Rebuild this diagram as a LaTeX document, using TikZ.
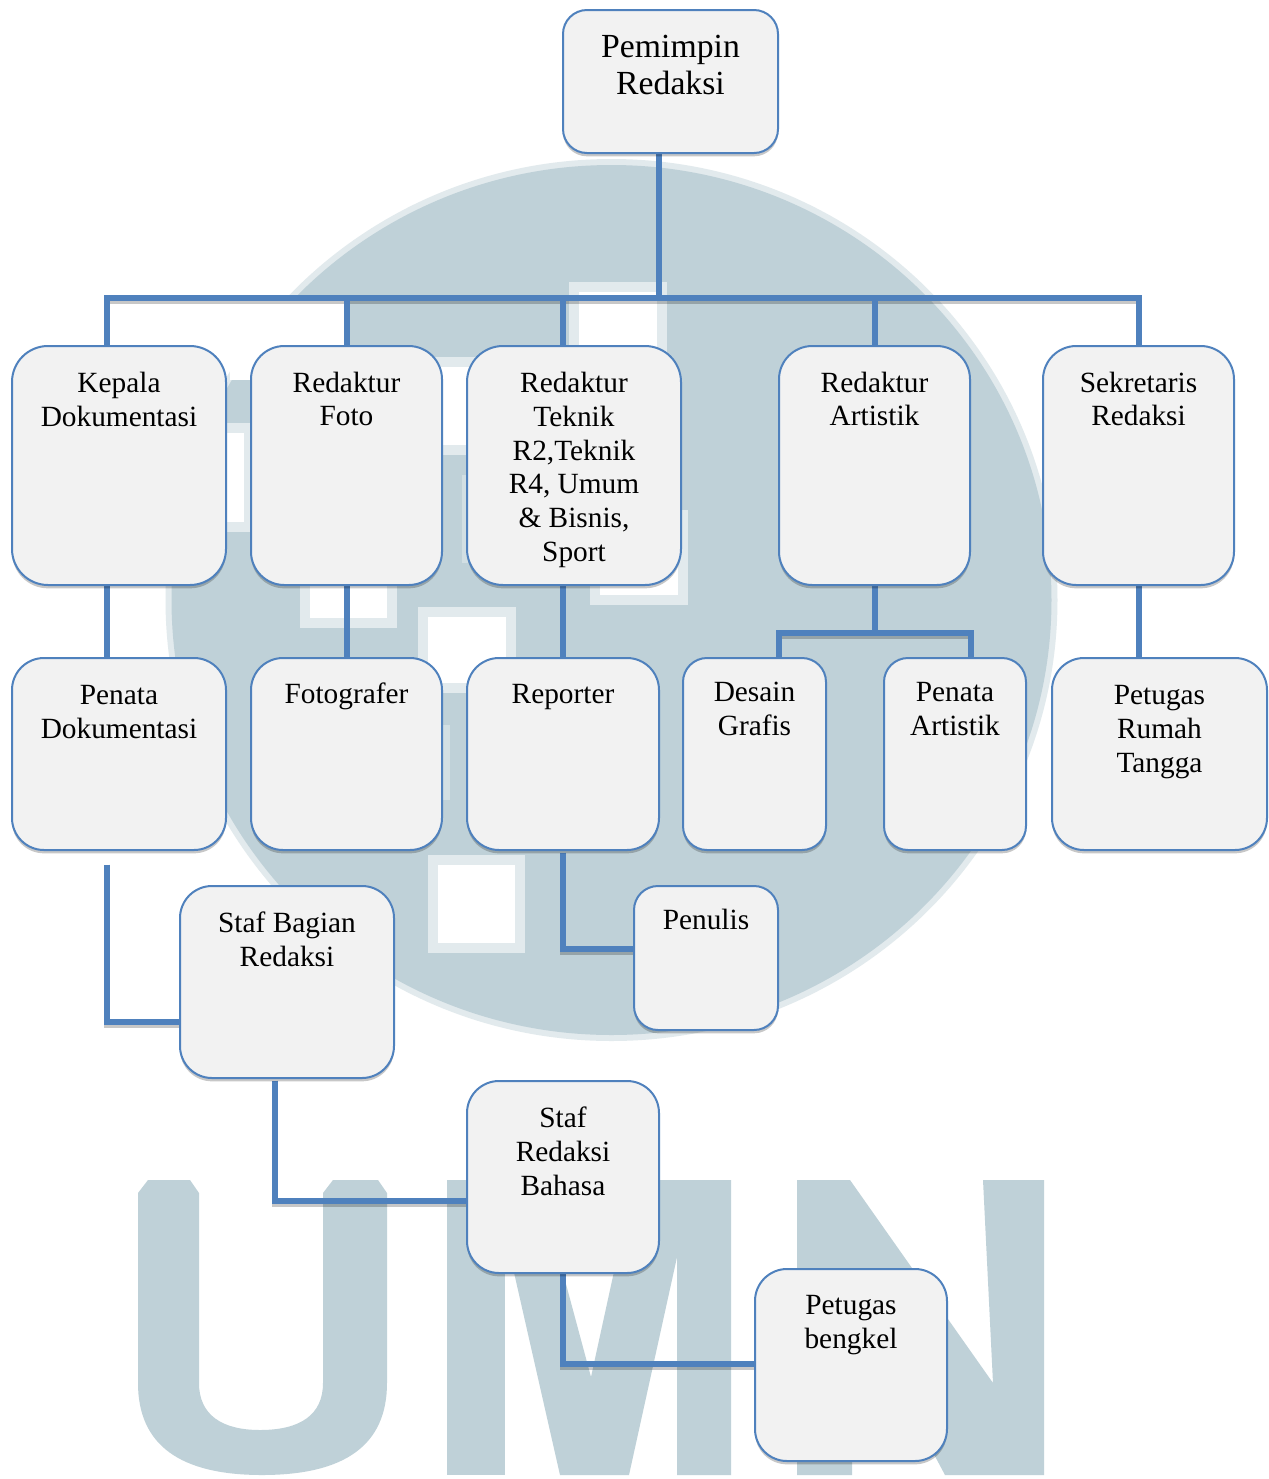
\documentclass[tikz,border=0pt]{standalone}
\usepackage{fontspec}
\setmainfont{Liberation Serif}
\usetikzlibrary{positioning,shadows}
\usepackage{xcolor}

\definecolor{boxblue}{HTML}{4F81BD}
\definecolor{boxfill}{HTML}{F2F2F2}
\definecolor{markblue}{HTML}{BFD1D8}
\definecolor{markfade}{HTML}{E2EAED}
\definecolor{markstrip}{HTML}{D2DFE3}

\pgfdeclarelayer{markLayer}
\pgfdeclarelayer{linkLayer}
\pgfsetlayers{markLayer,linkLayer,main}

\newcommand{\boxtext}[4]{\parbox[c][\dimexpr#2pt*3/4\relax][t]{\dimexpr#1pt*3/4\relax}{\centering\rule{0pt}{\dimexpr#3pt*3/4\relax}#4}}

\tikzset{
    orgbox/.style={
        rectangle,
        draw=boxblue,
        fill=boxfill,
        line width=1.5pt,
        inner sep=0pt,
        outer sep=0pt,
        font=\fontsize{22}{25.35}\selectfont,
        drop shadow={shadow xshift=0pt, shadow yshift=-2.5pt, fill=black, opacity=.22}
    },
    connector/.style={
        line width=4pt,
        draw=boxblue,
        preaction={draw=black, line width=4pt, draw opacity=.22, transform canvas={yshift=-2.5pt}}
    }
}

\begin{document}
\begin{tikzpicture}[x=0.75pt, y=-0.75pt]
    \begin{pgfonlayer}{markLayer}
    \useasboundingbox [fill=white] (0, 0) rectangle (1269, 1479);

    \fill[markfade] (611.5, 600) ellipse [x radius=446, y radius=441];
    \fill[markblue] (611.5, 600) ellipse [x radius=440, y radius=435];
    \fill[white] (230, 301) rectangle (347, 380);

    \foreach \xa/\ya/\xb/\yb in {569/282/667/380, 590/510/688/605, 418/607/516/693,
        428/855/525/953, 300/560/397/628, 400/357/500/455, 190/423/254/532}
    {
        \fill[markfade] (\xa, \ya) rectangle (\xb, \yb);
        \fill[white] (\xa + 10, \ya + 10) rectangle (\xb - 10, \yb - 10);
    }
    \fill[markstrip] (442, 725) rectangle (450, 800);
    \fill[markstrip] (462, 475) rectangle (468, 563);

    \fill[markblue] (138, 1193) -- (148, 1180) -- (190, 1180) -- (199, 1193) -- (199, 1383)
        .. controls (199, 1415) and (222, 1430) .. (260, 1430)
        .. controls (300, 1430) and (323, 1415) .. (323, 1383)
        -- (323, 1193) -- (333, 1180) -- (378, 1180) -- (387, 1193) -- (387, 1383)
        .. controls (387, 1445) and (345, 1475) .. (262, 1475)
        .. controls (180, 1475) and (138, 1445) .. (138, 1383) -- cycle;
    \fill[markblue] (447, 1180) rectangle (505, 1475);
    \fill[markblue] (493, 1180) -- (538, 1180) -- (591, 1377) -- (634, 1180) -- (694, 1180)
        -- (629, 1475) -- (560, 1475) -- cycle;
    \fill[markblue] (672, 1180) -- (731, 1180) -- (731, 1475) -- (677, 1475) -- (677, 1257) -- cycle;
    \fill[markblue] (797, 1180) -- (850, 1180) -- (993, 1383) -- (983, 1180) -- (1044, 1180)
        -- (1044, 1475) -- (945, 1475) -- (852, 1300) -- (852, 1475) -- (797, 1475) -- cycle;
    \end{pgfonlayer}

    \node (pemimpin_redaksi) [orgbox, rounded corners=18pt, shift={(670.5, 81.5)},
        font=\fontsize{25.3}{27.75}\selectfont]
    {
        \boxtext{215}{143}{47}{Pemimpin\\Redaksi}
    };

    \node (kepala_dokumentasi) [orgbox, rounded corners=27pt, shift={(119, 465.5)}]
    {
        \boxtext{214}{239}{46.5}{Kepala\\Dokumentasi}
    };
    \node (redaktur_foto) [orgbox, rounded corners=25pt, shift={(346.5, 465.5)}]
    {
        \boxtext{191}{239}{46}{Redaktur\\Foto}
    };
    \node (redaktur_teknik) [orgbox, rounded corners=27pt, shift={(574, 465.5)}]
    {
        \boxtext{214}{239}{46.5}{Redaktur\\Teknik\\R2,Teknik\\R4, Umum\\\& Bisnis,\\Sport}
    };
    \node (redaktur_artistik) [orgbox, rounded corners=25pt, shift={(874.5, 465.5)}]
    {
        \boxtext{191}{239}{46}{Redaktur\\Artistik}
    };
    \node (sekretaris_redaksi) [orgbox, rounded corners=25pt, shift={(1138.5, 465.5)}]
    {
        \boxtext{191}{239}{46}{Sekretaris\\Redaksi}
    };

    \node (penata_dokumentasi) [orgbox, rounded corners=24pt, shift={(119, 754)}]
    {
        \boxtext{214}{192}{46.5}{Penata\\Dokumentasi}
    };
    \node (fotografer) [orgbox, rounded corners=24pt, shift={(346.5, 754)}]
    {
        \boxtext{191}{192}{45}{Fotografer}
    };
    \node (reporter) [orgbox, rounded corners=24pt, shift={(563, 754)}]
    {
        \boxtext{192}{192}{45}{Reporter}
    };
    \node (desain_grafis) [orgbox, rounded corners=18pt, shift={(754.5, 754)}]
    {
        \boxtext{143}{192}{43.5}{Desain\\Grafis}
    };
    \node (penata_artistik) [orgbox, rounded corners=18pt, shift={(955, 754)}]
    {
        \boxtext{142}{192}{43.5}{Penata\\Artistik}
    };
    \node (petugas_rumah_tangga) [orgbox, rounded corners=24pt, shift={(1159.5, 754)}]
    {
        \boxtext{215}{192}{46.5}{Petugas\\Rumah\\Tangga}
    };

    \node (staf_bagian_redaksi) [orgbox, rounded corners=24pt, shift={(287, 982)}]
    {
        \boxtext{214}{192}{46.5}{Staf Bagian\\Redaksi}
    };
    \node (penulis) [orgbox, rounded corners=18pt, shift={(706, 958)}]
    {
        \boxtext{144}{144}{43}{Penulis}
    };
    \node (staf_redaksi_bahasa) [orgbox, rounded corners=24pt, shift={(563, 1177)}]
    {
        \boxtext{192}{192}{46.5}{Staf\\Redaksi\\Bahasa}
    };
    \node (petugas_bengkel) [orgbox, rounded corners=24pt, shift={(851, 1365)}]
    {
        \boxtext{192}{192}{45.5}{Petugas\\bengkel}
    };

    \coordinate (bus_left) at (107, 298);
    \coordinate (bus_right) at (1139, 298);
    \coordinate (bus_stem) at (659, 298);
    \coordinate (bus_foto) at (347, 298);
    \coordinate (bus_teknik) at (563, 298);
    \coordinate (bus_artistik) at (875, 298);
    \coordinate (artistik_left) at (779, 633);
    \coordinate (artistik_mid) at (875, 633);
    \coordinate (artistik_right) at (971, 633);
    \coordinate (staf_bagian_joint) at (107, 1022);
    \coordinate (penulis_joint) at (563, 949);
    \coordinate (staf_redaksi_joint) at (275, 1201);
    \coordinate (bengkel_joint) at (563, 1364);

    \begin{pgfonlayer}{linkLayer}
    \draw[connector] (pemimpin_redaksi.south -| bus_stem) to (bus_stem);
    \draw[connector] (kepala_dokumentasi.north -| bus_left) -- (bus_left) -- (bus_right) -- (sekretaris_redaksi.north -| bus_right);
    \draw[connector] (bus_foto) to (redaktur_foto.north -| bus_foto);
    \draw[connector] (bus_teknik) to (redaktur_teknik.north -| bus_teknik);
    \draw[connector] (bus_artistik) to (redaktur_artistik.north -| bus_artistik);

    \draw[connector] (kepala_dokumentasi.south -| bus_left) to (penata_dokumentasi.north -| bus_left);
    \draw[connector] (redaktur_foto.south -| bus_foto) to (fotografer.north -| bus_foto);
    \draw[connector] (redaktur_teknik.south -| bus_teknik) to (reporter.north);
    \draw[connector] (redaktur_artistik.south -| bus_artistik) to (artistik_mid);
    \draw[connector] (desain_grafis.north -| artistik_left) -- (artistik_left) -- (artistik_right) -- (penata_artistik.north -| artistik_right);
    \draw[connector] (sekretaris_redaksi.south -| bus_right) to (petugas_rumah_tangga.north -| bus_right);

    \draw[connector, shorten <=11pt] (penata_dokumentasi.south -| staf_bagian_joint) -- (staf_bagian_joint) -- (staf_bagian_redaksi.west |- staf_bagian_joint);
    \draw[connector, shorten <=2pt] (reporter.south) -- (penulis_joint) -- (penulis.west |- penulis_joint);
    \draw[connector, shorten <=2pt] (staf_bagian_redaksi.south -| staf_redaksi_joint) -- (staf_redaksi_joint) -- (staf_redaksi_bahasa.west |- staf_redaksi_joint);
    \draw[connector] (staf_redaksi_bahasa.south) -- (bengkel_joint) -- (petugas_bengkel.west |- bengkel_joint);
    \end{pgfonlayer}
\end{tikzpicture}
\end{document}
